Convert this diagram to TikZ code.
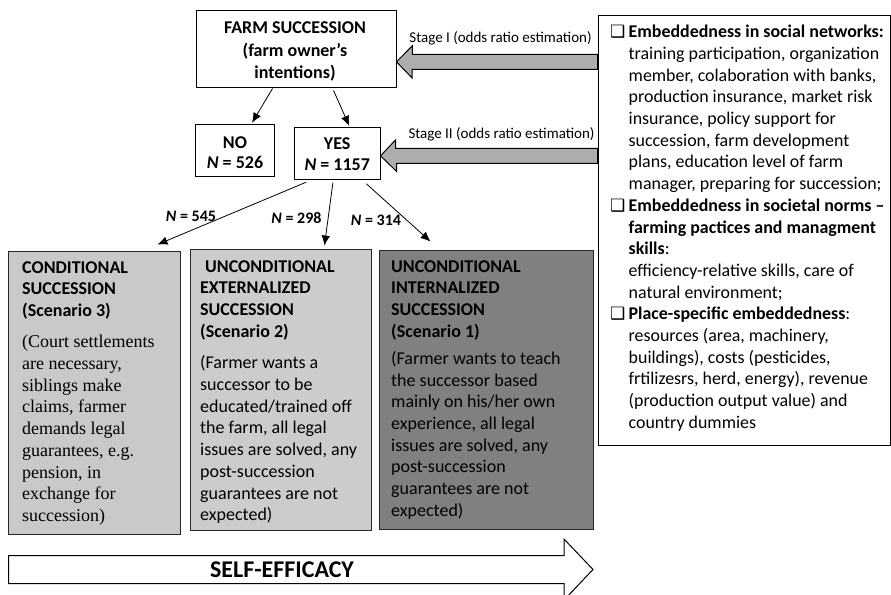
\documentclass[tikz,border=0pt]{standalone}
\usepackage{fontspec}
\setmainfont{Carlito}
\newfontfamily\tnrfont{Liberation Serif}
\newfontfamily\dvfont{DejaVu Sans}
\usetikzlibrary{arrows.meta,calc}
\newcommand{\chkbox}{\makebox[18.5pt][l]{\dvfont\fontsize{17}{17}\selectfont ❑}}
\newcommand{\indt}{\hspace*{18.5pt}}
\begin{document}
\begin{tikzpicture}[x=1pt,y=-1pt,
  box/.style={draw, line width=0.9pt, fill=white, inner sep=0pt},
  scen/.style={draw=black!85, line width=0.9pt, inner sep=0pt},
  txt/.style={inner sep=0pt, anchor=north west, align=left},
  ctxt/.style={inner sep=0pt, align=center},
  f18/.style={font=\fontsize{18}{21.7}\selectfont},
  bf18/.style={font=\bfseries\fontsize{18}{21.7}\selectfont},
  conn/.style={-{Latex[length=10pt,width=8.5pt]}, line width=0.8pt},
  bigarr/.style={draw, line width=1pt, fill=gray!64},
  nlab/.style={inner sep=0pt, font=\bfseries\fontsize{16}{18}\selectfont},
  stlab/.style={inner sep=0pt, font=\fontsize{15}{18}\selectfont},
]
\useasboundingbox (0,0) rectangle (891,594);

% top boxes
\node[box, minimum width=200pt, minimum height=77pt] (fs) at (296,48.5) {};
\node[ctxt, font=\bfseries\fontsize{18}{22.5}\selectfont] (fst) at ($(fs.center)+(-1,3)$)
      {FARM SUCCESSION\\(farm owner’s\\intentions)};
\node[box, minimum width=78.6pt, minimum height=52.4pt] (no) at (235,150.5) {};
\node[ctxt, font=\bfseries\fontsize{18}{20.7}\selectfont] (not) at ($(no.center)+(0,2.2)$)
      {NO\\\textit{N} = 526};
\node[box, minimum width=85.7pt, minimum height=52pt] (yes) at (337.2,153.3) {};
\node[ctxt, font=\bfseries\fontsize{18}{20.7}\selectfont] (yest) at ($(yes.center)+(0,1.2)$)
      {YES\\\textit{N} = 1157};

% scenario boxes
\node[scen, fill=gray!42, minimum width=171.5pt, minimum height=283pt] (c3) at (94.25,392.5) {};
\node[scen, fill=gray!40, minimum width=181pt, minimum height=281pt] (c2) at (280.5,389.5) {};
\node[scen, fill=gray!100, minimum width=214pt, minimum height=279pt] (c1) at (486,389.5) {};

\node[txt, bf18] (c3t) at (22,261.2) {CONDITIONAL\\SUCCESSION\\(Scenario 3)};
\node[txt, font=\tnrfont\fontsize{18}{21.75}\selectfont] (c3b) at (22,335)
  {(Court settlements\\are necessary,\\siblings make\\claims, farmer\\demands legal\\guarantees, e.g.\\pension, in\\exchange for\\succession)};

\node[txt, bf18] (c2t) at (200,260.2) {\hspace*{5pt}UNCONDITIONAL\\EXTERNALIZED\\SUCCESSION\\(Scenario 2)};
\node[txt, f18] (c2b) at (200,355.5)
  {(Farmer wants a\\successor to be\\educated/trained off\\the farm, all legal\\issues are solved, any\\post-succession\\guarantees are not\\expected)};

\node[txt, bf18] (c1t) at (391,260.2) {UNCONDITIONAL\\INTERNALIZED\\SUCCESSION\\(Scenario 1)};
\node[txt, f18] (c1b) at (391,351)
  {(Farmer wants to teach\\the successor based\\mainly on his/her own\\experience, all legal\\issues are solved, any\\post-succession\\guarantees are not\\expected)};

% info box
\node[box, minimum width=292pt, minimum height=430pt] (info) at (744,230) {};
\node[txt, font=\fontsize{17.9}{21.7}\selectfont] (infot) at (610,25)
  {\chkbox\textbf{Embeddedness in social networks:}\\
   \indt training participation, organization\\
   \indt member, colaboration with banks,\\
   \indt production insurance, market risk\\
   \indt insurance, policy support for\\
   \indt succession, farm development\\
   \indt plans, education level of farm\\
   \indt manager, preparing for succession;\\
   \chkbox\textbf{Embeddedness in societal norms –}\\
   \indt\textbf{farming pactices and managment}\\
   \indt\textbf{skills}:\\
   \indt efficiency-relative skills, care of\\
   \indt natural environment;\\
   \chkbox\textbf{Place-specific embeddedness}:\\
   \indt resources (area, machinery,\\
   \indt buildings), costs (pesticides,\\
   \indt frtilizesrs, herd, energy), revenue\\
   \indt (production output value) and\\
   \indt country dummies};

% big stage arrows
\draw[bigarr] (fs.east |- 0,61.8) -- ++(16,-16.1) -- ++(0,8.6) -- (info.west |- 0,54.3)
  -- (info.west |- 0,69.3) -- (412,69.3) -- (412,77.9) -- cycle;
\draw[bigarr] (yes.east |- 0,155.8) -- ++(15,-15.8) -- ++(0,8.3) -- (info.west |- 0,148.3)
  -- (info.west |- 0,163.3) -- (396.7,163.3) -- (396.7,171.6) -- cycle;
\node[stlab] (s1) at (500.5,38.3) {Stage I (odds ratio estimation)};
\node[stlab] (s2) at (501.5,134.3) {Stage II (odds ratio estimation)};

% connectors
\draw[conn] ($(fs.south west)+(77,1)$) -- ($(no.north)+(17,-1)$);
\draw[conn] ($(fs.south west)+(138,3)$) -- ($(yes.north)+(12,-1)$);
\draw[conn] ($(yes.south west)+(12.4,2.4)$) -- ($(c3.north east)+(-23,-6)$);
\draw[conn] ($(yes.south west)+(39,3)$) -- ($(c2.north east)+(-47,-3)$);
\draw[conn] ($(yes.south west)+(72.4,4)$) -- ($(c1.north west)+(52,-8)$);
\node[nlab] (n1) at (191,216.7) {\textit{N} = 545};
\node[nlab] (n2) at (296.5,217.7) {\textit{N} = 298};
\node[nlab] (n3) at (376,220) {\textit{N} = 314};

% self-efficacy arrow
\draw[line width=1pt, fill=white] (8.5,555.5) -- (564,555.5) -- (564,539) -- (593,569.5)
  -- (564,600) -- (564,583.5) -- (8.5,583.5) -- cycle;
\node[inner sep=0pt, font=\bfseries\fontsize{24}{28}\selectfont] (se) at (282,570) {SELF-EFFICACY};
\end{tikzpicture}
\end{document}
